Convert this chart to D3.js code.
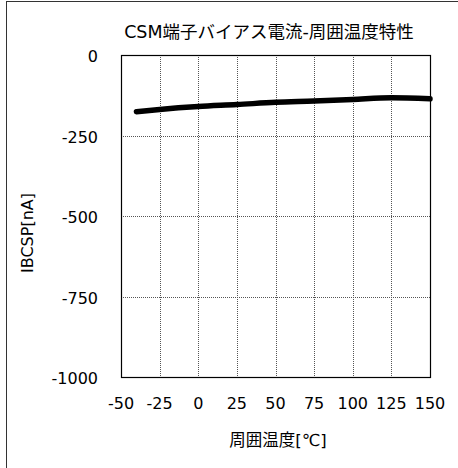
<!DOCTYPE html>
<html><head><meta charset="utf-8">
<script src="https://cdn.jsdelivr.net/npm/d3@7"></script>
<style>body{margin:0;background:#fff}svg{display:block}text{font-family:"DejaVu Sans","Noto Sans CJK JP",sans-serif;fill:#000}</style>
</head><body>
<script>
const temps = [-40, -25, 0, 25, 50, 75, 100, 125, 150];
const ibcsp = [-176, -169, -160, -154, -147, -143, -138, -133, -136];
const xTicks = [-50, -25, 0, 25, 50, 75, 100, 125, 150];
const yTicks = [0, -250, -500, -750, -1000];
const title = "CSM端子バイアス電流-周囲温度特性";
const xLabel = "周囲温度[℃]";
const yLabel = "IBCSP[nA]";

const W = 458, H = 468;
const L = 121, R = 430, T = 55, B = 377;
const svg = d3.select("body").append("svg").attr("width", W).attr("height", H);
svg.append("rect").attr("x", 6.5).attr("y", 1.5).attr("width", 470).attr("height", 480)
  .attr("fill", "none").attr("stroke", "#333").attr("stroke-width", 1);

const x = d3.scaleLinear().domain([-50, 150]).range([L, R]);
const y = d3.scaleLinear().domain([-1000, 0]).range([B, T]);

const grid = svg.append("g").attr("stroke", "#555").attr("stroke-width", 1).attr("stroke-dasharray", "1,1");
grid.selectAll("line.v").data(xTicks.slice(1, -1)).join("line")
  .attr("x1", d => Math.round(x(d)) + 0.5).attr("x2", d => Math.round(x(d)) + 0.5)
  .attr("y1", T).attr("y2", B);
grid.selectAll("line.h").data(yTicks.slice(1, -1)).join("line")
  .attr("y1", d => Math.round(y(d)) + 0.5).attr("y2", d => Math.round(y(d)) + 0.5)
  .attr("x1", L).attr("x2", R);

svg.append("rect").attr("x", L + 0.5).attr("y", T + 0.5).attr("width", R - L).attr("height", B - T)
  .attr("fill", "none").attr("stroke", "#000").attr("stroke-width", 1.2);

const line = d3.line().x((d, i) => x(temps[i])).y(d => y(d)).curve(d3.curveMonotoneX);
svg.append("path").datum(ibcsp).attr("d", line).attr("fill", "none")
  .attr("stroke", "#000").attr("stroke-width", 5.5).attr("stroke-linecap", "round");

svg.append("g").selectAll("text").data(xTicks).join("text")
  .attr("x", d => x(d)).attr("y", 409).attr("text-anchor", "middle")
  .attr("font-size", 16).text(d => d);
svg.append("g").selectAll("text").data(yTicks).join("text")
  .attr("x", 98).attr("y", d => y(d) + 7).attr("text-anchor", "end")
  .attr("font-size", 16).text(d => d);

svg.append("text").attr("x", 269).attr("y", 38).attr("text-anchor", "middle")
  .attr("font-size", 17.5).text(title);
svg.append("text").attr("x", 278).attr("y", 446).attr("text-anchor", "middle")
  .attr("font-size", 16.5).text(xLabel);
svg.append("text").attr("transform", "translate(33,233) rotate(-90)").attr("text-anchor", "middle")
  .attr("font-size", 16).text(yLabel);
</script>
</body></html>
